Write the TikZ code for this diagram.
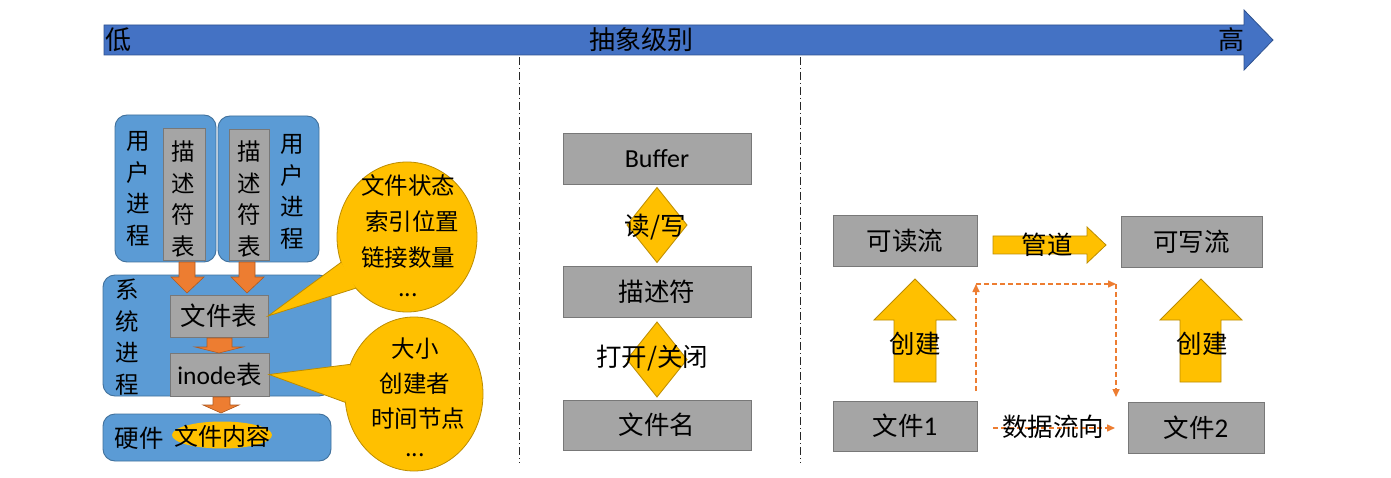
\documentclass[tikz,border=0pt]{standalone}
\usepackage{fontspec}
\setmainfont{Noto Sans CJK SC}
\newfontfamily\latf{Carlito}
\usetikzlibrary{shapes.geometric,arrows.meta}
\definecolor{topblue}{HTML}{4472C4}
\definecolor{topborder}{HTML}{2F528F}
\definecolor{procblue}{HTML}{5B9BD5}
\definecolor{procborder}{HTML}{41719C}
\definecolor{boxgray}{HTML}{A5A5A5}
\definecolor{boxborder}{HTML}{787878}
\definecolor{gold}{HTML}{FFC000}
\definecolor{goldborder}{HTML}{BC8C00}
\definecolor{orng}{HTML}{ED7D31}
\definecolor{orngborder}{HTML}{AE5A21}
\begin{document}
\begin{tikzpicture}[x=1pt,y=-1pt,
  every node/.style={inner sep=0pt, outer sep=0pt},
  txt/.style={font=\fontsize{25.5}{30}\selectfont},
  vtxt/.style={align=center,font=\fontsize{23.5}{31.5}\selectfont},
  ctxt/.style={align=center,font=\fontsize{23.5}{36}\selectfont},
  graybox/.style={draw=boxborder, fill=boxgray, line width=0.9pt, txt},
  proc/.style={draw=procborder, fill=procblue, line width=0.9pt, rounded corners=12pt},
  goldshape/.style={draw=goldborder, fill=gold, line width=0.8pt},
  orangearrow/.style={draw=orngborder, fill=orng, line width=0.6pt},
  bubble/.style={ellipse, fill=gold, draw=goldborder, line width=0.8pt},
  flow/.style={draw=orng, line width=1.5pt, dash pattern=on 5pt off 3pt, -{Triangle[length=8pt,width=7pt]}},
  divider/.style={line width=0.7pt, draw=black!85, dash pattern=on 8pt off 3pt on 1pt off 3pt},
]
\fill[white] (0,0) rectangle (1391,478);
\useasboundingbox (0,0) rectangle (1391,478);

% top arrow
\draw[fill=topblue, draw=topborder, line width=0.8pt]
  (104,25) -- (1244,25) -- (1244,10) -- (1273,40) -- (1244,70) -- (1244,55) -- (104,55) -- cycle;
\node[txt, font=\fontsize{26}{30}\selectfont] (low) at (118,40) {低};
\node[txt, font=\fontsize{26}{30}\selectfont] (abs) at (641,40) {抽象级别};
\node[txt, font=\fontsize{26}{30}\selectfont] (high) at (1231,40) {高};

% dividers
\coordinate (dv1a) at (519,57); \coordinate (dv1b) at (519,463);
\coordinate (dv2a) at (800,57); \coordinate (dv2b) at (800,463);
\draw[divider] (dv1a) -- (dv1b);
\draw[divider] (dv2a) -- (dv2b);

% ---------- left part ----------
\node[proc, minimum width=101pt, minimum height=147pt] (up1) at (165.5,188.5) {};
\node[proc, minimum width=101pt, minimum height=146pt] (up2) at (268.5,189) {};
\node[graybox, minimum width=42pt, minimum height=132pt] (dt1) at (184,194) {};
\node[graybox, minimum width=40pt, minimum height=131pt] (dt2) at (249,194.5) {};
\node[vtxt] (up1t) at (138,189) {用\\户\\进\\程};
\node[vtxt] (dt1t) at (183,199) {描\\述\\符\\表};
\node[vtxt] (dt2t) at (249,199) {描\\述\\符\\表};
\node[vtxt] (up2t) at (292,192) {用\\户\\进\\程};

\node[proc, minimum width=228pt, minimum height=121pt] (sp) at (217,335.5) {};
\node[vtxt] (spt) at (127,337) {系\\统\\进\\程};
\node[graybox, minimum width=98pt, minimum height=42pt] (ft) at (219,316) {文件表};
\node[graybox, minimum width=99pt, minimum height=43pt] (it) at (219.5,374.5) {{\latf inode}表};

\node[proc, minimum width=228pt, minimum height=47pt] (hw) at (217,437.5) {};
\node[txt, font=\fontsize{24.5}{28}\selectfont] (hwt) at (139,438) {硬件};
\node[ellipse, fill=gold, minimum width=100pt, minimum height=27pt] (fc) at (222,435) {};
\node[txt, font=\fontsize{24}{28}\selectfont] (fct) at (222,436) {文件内容};

% orange block arrows
\draw[orangearrow] (179,262) -- (195,262) -- (195,277) -- (204,277) -- (187,293) -- (171,277) -- (179,277) -- cycle;
\draw[orangearrow] (239,262) -- (255,262) -- (255,277) -- (264,277) -- (247,293) -- (231,277) -- (239,277) -- cycle;
\draw[orangearrow] (207,338) -- (232,338) -- (232,347) -- (243,347) -- (219,353) -- (195,347) -- (207,347) -- cycle;
\draw[orangearrow] (213,397) -- (230,397) -- (230,405) -- (239,405) -- (221,413) -- (203,405) -- (213,405) -- cycle;

% callouts
\node[bubble, minimum width=140pt, minimum height=150pt] (b1) at (407,237) {};
\fill[gold] (ft.east) -- (b1.201) -- (b1.225) -- cycle;
\draw[goldborder, line width=0.8pt] (b1.201) -- (ft.east) -- (b1.225);
\node[ctxt] (b1t) at (408,236) {文件状态\\\hspace*{8pt}索引位置\\链接数量\\[-6pt]...};

\node[bubble, minimum width=138pt, minimum height=154pt] (b2) at (414,394) {};
\fill[gold] (it.east) -- (b2.155) -- (b2.187) -- cycle;
\draw[goldborder, line width=0.8pt] (b2.155) -- (it.east) -- (b2.187);
\node[ctxt, font=\fontsize{23.5}{35}\selectfont] (b2t) at (415,397) {大小\\创建者\\\hspace*{6pt}时间节点\\[-6pt]...};

% ---------- middle part ----------
\node[graybox, minimum width=188pt, minimum height=51pt] (buf) at (657,158.5) {{\latf\fontsize{26}{30}\selectfont Buffer}};
\node[diamond, goldshape, minimum width=60pt, minimum height=75pt] (rw) at (657,225) {};
\node[txt] (rwt) at (655,227) {读/写};
\node[graybox, minimum width=188pt, minimum height=51pt] (fd) at (657,291.5) {描述符};
\node[diamond, goldshape, minimum width=60pt, minimum height=75pt] (oc) at (657,359.5) {};
\node[txt] (oct) at (652,358) {打开/关闭};
\node[graybox, minimum width=188pt, minimum height=50pt] (fn) at (657,425) {文件名};

% ---------- right part ----------
\node[graybox, minimum width=144pt, minimum height=51pt] (rs) at (905,240.5) {可读流};
\node[graybox, minimum width=141pt, minimum height=51pt] (ws) at (1191.5,241.5) {可写流};
\node[graybox, minimum width=144pt, minimum height=50pt] (f1) at (905,426) {文件{\latf\fontsize{27}{30}\selectfont 1}};
\node[graybox, minimum width=136pt, minimum height=51pt] (f2) at (1196,427.5) {文件{\latf\fontsize{27}{30}\selectfont 2}};

\draw[goldshape] (993,236) -- (1087,236) -- (1087,227) -- (1106,245) -- (1087,263) -- (1087,254) -- (993,254) -- cycle;
\node[txt] (pipe) at (1047,245) {管道};
\draw[goldshape] (894,382) -- (894,320) -- (874,320) -- (915,279) -- (956,320) -- (936,320) -- (936,382) -- cycle;
\node[txt] (c1) at (915,344) {创建};
\draw[goldshape] (1180,382) -- (1180,320) -- (1160,320) -- (1201,279) -- (1242,320) -- (1221,320) -- (1221,382) -- cycle;
\node[txt] (c2) at (1202,344) {创建};

\coordinate (p1) at (976,391);
\coordinate (p2) at (976,284);
\coordinate (p3) at (1116,284);
\coordinate (p4) at (1116,397);
\coordinate (q1) at (993,428);
\coordinate (q2) at (1115,428);
\draw[flow] (p1) -- (p2);
\draw[flow] (p2) -- (p3);
\draw[flow] (p3) -- (p4);
\draw[flow] (q1) -- (q2);
\node[txt] (dflow) at (1053,427) {数据流向};
\end{tikzpicture}
\end{document}
